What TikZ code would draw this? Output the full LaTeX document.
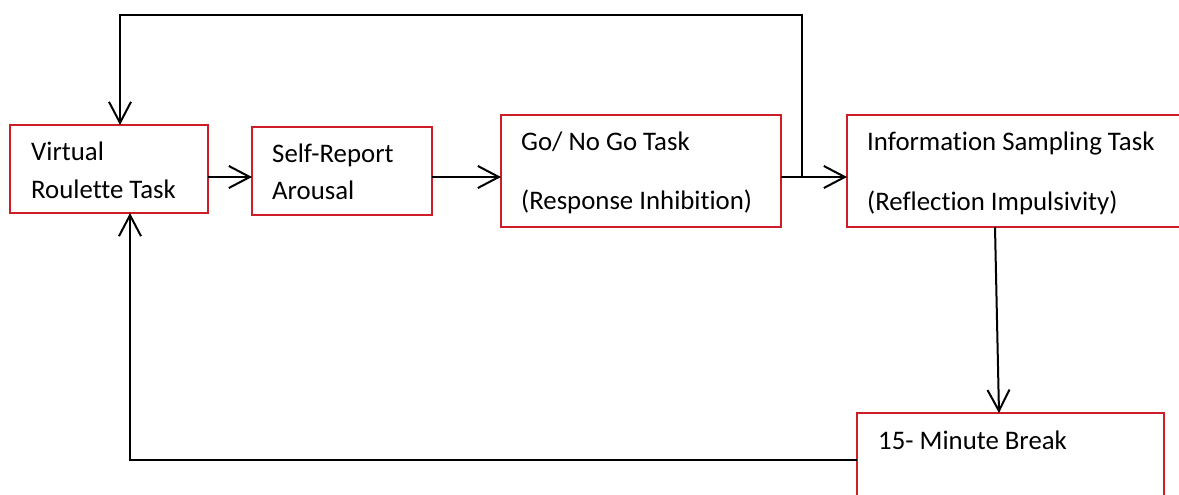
\documentclass[tikz,border=0pt]{standalone}
\usepackage{fontspec}
\setmainfont{Carlito}[Ligatures={NoCommon}]
\usetikzlibrary{arrows.meta}
\definecolor{boxred}{RGB}{205,30,40}
\begin{document}
\begin{tikzpicture}[x=1pt,y=-1pt,
  box/.style={draw=boxred, line width=1.5pt, anchor=north west, inner sep=0pt, outer sep=0pt},
  lbl/.style={anchor=base west, inner sep=0pt, font=\fontsize{26.8}{30}\selectfont},
  link/.style={line width=2pt},
  arr/.style={link, -{Straight Barb[length=21pt,width=22pt]}}]
\clip (0,0) rectangle (1179,495);
\fill[white] (0,0) rectangle (1179,495);
% boxes
\node[box, minimum width=198pt, minimum height=88pt] (b1) at (10,125) {};
\node[box, minimum width=180pt, minimum height=88pt] (b2) at (252,127) {};
\node[box, minimum width=280pt, minimum height=112pt] (b3) at (501,115) {};
\node[box, minimum width=360pt, minimum height=112pt] (b4) at (847,115) {};
\node[box, minimum width=307pt, minimum height=100pt] (b5) at (857,413) {};
% labels
\node[lbl] (t1a) at (31,160) {Virtual};
\node[lbl] (t1b) at (31,198) {Roulette Task};
\node[lbl] (t2a) at (272,162) {Self-Report};
\node[lbl] (t2b) at (272,199) {Arousal};
\node[lbl] (t3a) at (521,150) {Go/ No Go Task};
\node[lbl] (t3b) at (521,209) {(Response Inhibition)};
\node[lbl] (t4a) at (867,150) {Information Sampling Task};
\node[lbl] (t4b) at (867,210) {(Reflection Impulsivity)};
\node[lbl] (t5) at (878,449) {15- Minute Break};
% helper coordinates
\coordinate (row) at (0,177);
\coordinate (top) at (0,15);
\coordinate (bot) at (0,460);
\coordinate (j) at (802,177);
\coordinate (lx) at (120,0);
\coordinate (bx) at (130,0);
\coordinate (d1) at (995,0);
\coordinate (d2) at (999,0);
% connectors
\draw[arr] (b1.east|-row) -- (b2.west|-row);
\draw[arr] (b2.east|-row) -- (b3.west|-row);
\draw[arr] (b3.east|-row) -- (b4.west|-row);
\draw[arr] (j) -- (j|-top) -- (lx|-top) -- (lx|-b1.north);
\draw[arr] (d1|-b4.south) -- (d2|-b5.north);
\draw[arr] (b5.west|-bot) -- (bx|-bot) -- (bx|-b1.south);
\end{tikzpicture}
\end{document}
